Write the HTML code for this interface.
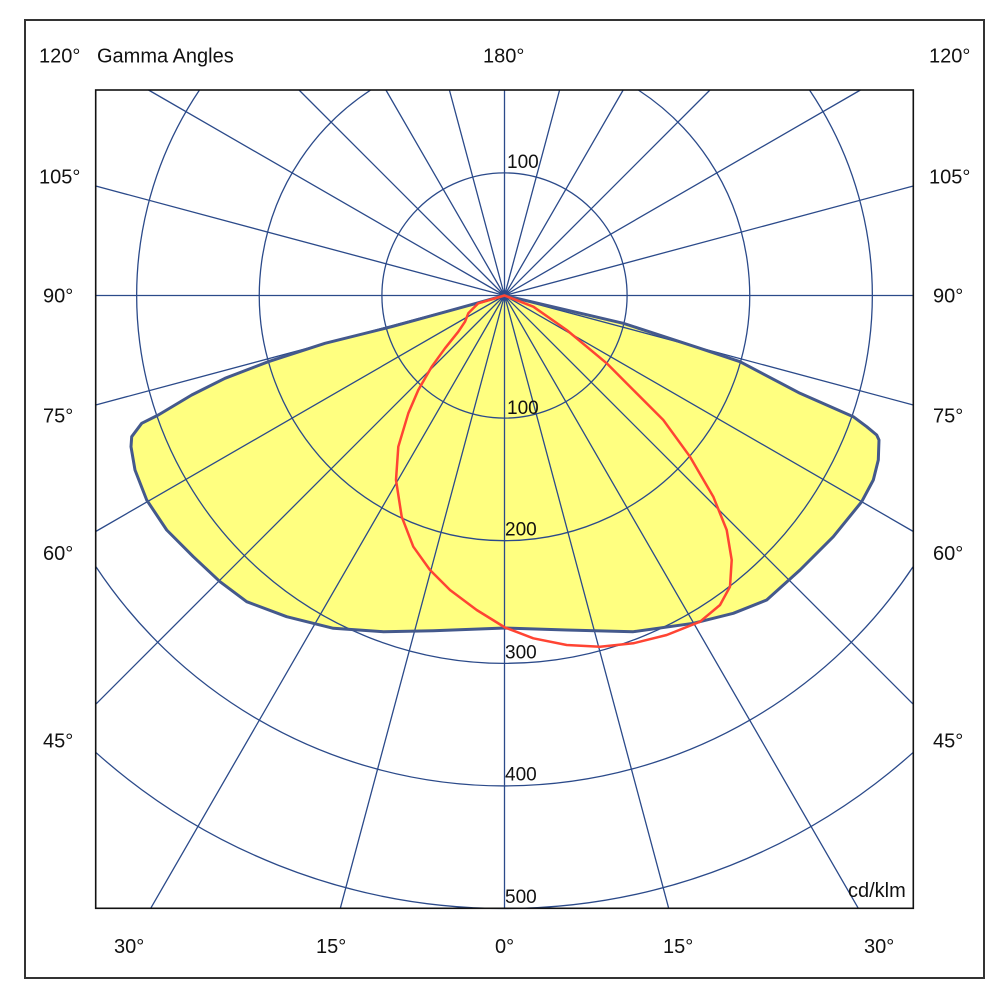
<!DOCTYPE html>
<html>
<head>
<meta charset="utf-8">
<style>
  html, body { margin:0; padding:0; background:#ffffff; width:994px; height:1000px; overflow:hidden; }
  svg { display:block; }
  text { font-family: "Liberation Sans", Arial, sans-serif; fill:#111; }
</style>
</head>
<body>
<svg width="994" height="1000" viewBox="0 0 994 1000" xmlns="http://www.w3.org/2000/svg">
  <rect x="0" y="0" width="994" height="1000" fill="#fff"/>

  <!-- outer frame -->
  <rect x="25" y="20" width="959" height="958" fill="none" stroke="#333" stroke-width="2"/>

  <!-- yellow fill -->
  <path d="M504.5,295.5 L458.3,308.3 L391.7,326.7 L325,343.3 L268.3,361.7 L225,378.3 L191.7,395 L158.3,415 L141.7,423.3 L131.7,436.7 L131,446.7 L135,470 L146.7,500 L166.7,530 L193.3,556.7 L220,581.7 L246.7,601.7 L286.7,616.7 L333.3,628.3 L383.3,631.7 L433.3,630.7 L505,628 L566.7,630 L633.3,631.7 L693.3,623.3 L733.3,613.3 L766.7,600 L800,570 L833.3,536.7 L861.7,501.7 L873.3,480 L878.3,460 L879,440 L876.7,435 L866.7,426.7 L853.3,416.7 L800,393.3 L740,361.7 L700,348.3 L623.3,323.3 Z"
        fill="#ffff80" stroke="none"/>

  <!-- grid -->
  <g fill="none" stroke="#2b4a8a" stroke-width="1.3">
    <circle cx="504.5" cy="295.5" r="122.6"/>
    <path d="M638.3,90 A245.2,245.2 0 1 1 370.7,90"/>
    <path d="M809.5,90 A367.8,367.8 0 1 1 199.5,90"/>
    <path d="M913.3,566.4 A490.4,490.4 0 0 1 95.7,566.4"/>
    <path d="M913.3,752.3 A613,613 0 0 1 95.7,752.3"/>

    <path d="M504.5,295.5 L913.3,295.5
             M504.5,295.5 L913.3,405.0
             M504.5,295.5 L913.3,531.5
             M504.5,295.5 L913.3,704.3
             M504.5,295.5 L858.3,908.3
             M504.5,295.5 L668.7,908.3
             M504.5,295.5 L504.5,908.3
             M504.5,295.5 L340.3,908.3
             M504.5,295.5 L150.7,908.3
             M504.5,295.5 L95.7,704.3
             M504.5,295.5 L95.7,531.5
             M504.5,295.5 L95.7,405.0
             M504.5,295.5 L95.7,295.5
             M504.5,295.5 L95.7,186.0
             M504.5,295.5 L148.5,90
             M504.5,295.5 L299,90
             M504.5,295.5 L385.9,90
             M504.5,295.5 L449.4,90
             M504.5,295.5 L504.5,90
             M504.5,295.5 L559.6,90
             M504.5,295.5 L623.2,90
             M504.5,295.5 L710,90
             M504.5,295.5 L860.5,90
             M504.5,295.5 L913.3,186.0"/>
  </g>

  <!-- yellow outline -->
  <path d="M504.5,295.5 L458.3,308.3 L391.7,326.7 L325,343.3 L268.3,361.7 L225,378.3 L191.7,395 L158.3,415 L141.7,423.3 L131.7,436.7 L131,446.7 L135,470 L146.7,500 L166.7,530 L193.3,556.7 L220,581.7 L246.7,601.7 L286.7,616.7 L333.3,628.3 L383.3,631.7 L433.3,630.7 L505,628 L566.7,630 L633.3,631.7 L693.3,623.3 L733.3,613.3 L766.7,600 L800,570 L833.3,536.7 L861.7,501.7 L873.3,480 L878.3,460 L879,440 L876.7,435 L866.7,426.7 L853.3,416.7 L800,393.3 L740,361.7 L700,348.3 L623.3,323.3 Z"
        fill="none" stroke="#44598c" stroke-width="3" stroke-linejoin="round"/>

  <!-- red curve -->
  <path d="M504.5,295.5 L478.3,303.3 L468.3,313.3 L465,321.7 L458.3,331.7 L445,348.3 L431.7,366.7 L418.3,390 L408.3,413.3 L398.3,446.7 L396,480 L401.7,516.7 L413.3,546.7 L430,570 L450,590 L476.7,610 L505,627.5 L533.3,638.3 L566.7,645 L600,646.7 L633.3,643.3 L666.7,635 L700,621.7 L720,605 L730,586.7 L731.7,560 L726.7,530 L713.3,496.7 L690,456.7 L663.3,420 L633.3,390 L606.7,363.3 L566.7,330 L533.3,306.7 Z"
        fill="none" stroke="#ff4433" stroke-width="2.5" stroke-linejoin="round"/>

  <!-- inner frame -->
  <rect x="95.7" y="90" width="817.6" height="818.3" fill="none" stroke="#111" stroke-width="1.6"/>

  <!-- angle labels -->
  <g font-size="20">
    <text x="39" y="62.5">120°</text>
    <text x="97" y="62.5">Gamma Angles</text>
    <text x="483" y="62.5">180°</text>
    <text x="929" y="62.5">120°</text>

    <text x="39" y="183.5">105°</text>
    <text x="929" y="183.5">105°</text>

    <text x="43" y="302.5">90°</text>
    <text x="933" y="302.5">90°</text>

    <text x="43" y="422.5">75°</text>
    <text x="933" y="422.5">75°</text>

    <text x="43" y="560">60°</text>
    <text x="933" y="560">60°</text>

    <text x="43" y="747.5">45°</text>
    <text x="933" y="747.5">45°</text>

    <text x="114" y="953">30°</text>
    <text x="316" y="953">15°</text>
    <text x="495" y="953">0°</text>
    <text x="663" y="953">15°</text>
    <text x="864" y="953">30°</text>

    <text x="848" y="897">cd/klm</text>
  </g>

  <!-- radial labels -->
  <g font-size="19">
    <text x="507" y="168">100</text>
    <text x="507" y="414">100</text>
    <text x="505" y="535.5">200</text>
    <text x="505" y="658.5">300</text>
    <text x="505" y="780.5">400</text>
    <text x="505" y="903">500</text>
  </g>
</svg>
</body>
</html>
